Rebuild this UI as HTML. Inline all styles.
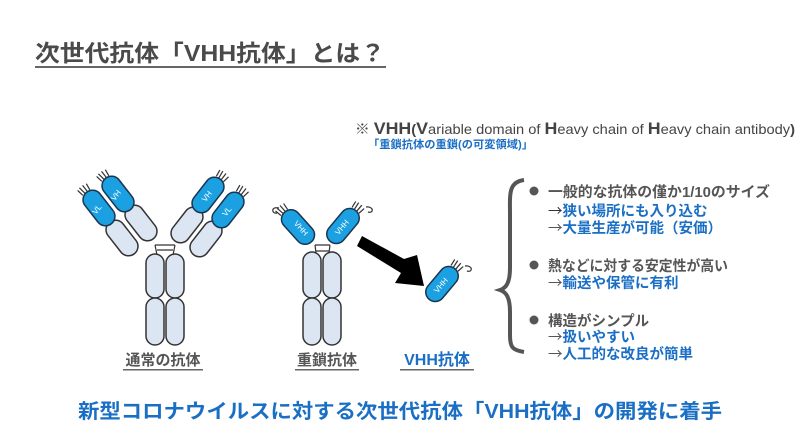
<!DOCTYPE html>
<html><head><meta charset="utf-8"><style>
html,body{margin:0;padding:0;background:#fff;}
svg{display:block;font-family:"Liberation Sans","Noto Sans CJK JP",sans-serif;}
.cjk{font-family:"Noto Sans CJK JP",sans-serif;}
</style></head><body>
<svg width="800" height="436" viewBox="0 0 800 436" xmlns="http://www.w3.org/2000/svg">
<defs>
<g id="pale"><rect x="-9.5" y="-20" width="19" height="40" rx="9.5" fill="#dce6f2" stroke="#333" stroke-width="1.5"/></g>
<g id="blue"><rect x="-9.5" y="-20" width="19" height="40" rx="9.5" fill="#1ba1e2" stroke="#1a3550" stroke-width="1.5"/>
<path d="M-5,-20 l-1,-7 M-2,-20 l-1,-8 M1,-20 l0,-8 M4,-20 l1,-7" stroke="#333" stroke-width="1.2" fill="none"/></g>
</defs>

<text x="35" y="61" font-size="23" font-weight="bold" fill="#4a4a4a" textLength="350" lengthAdjust="spacingAndGlyphs">次世代抗体「VHH抗体」とは？</text>
<rect x="35" y="66" width="351" height="2" fill="#666"/>

<text x="355" y="134" font-size="14" fill="#444" font-weight="bold" textLength="440" lengthAdjust="spacingAndGlyphs">※ <tspan font-size="17">V</tspan><tspan font-size="17">H</tspan><tspan font-size="17">H</tspan>(<tspan font-size="17">V</tspan><tspan font-weight="normal">ariable domain of </tspan><tspan font-size="17">H</tspan><tspan font-weight="normal">eavy chain of </tspan><tspan font-size="17">H</tspan><tspan font-weight="normal">eavy chain antibody</tspan>)</text>
<text x="368" y="148" font-size="11" font-weight="bold" fill="#1a6fc4" textLength="165" lengthAdjust="spacingAndGlyphs">「重鎖抗体の重鎖(の可変領域)」</text>

<rect x="146" y="254" width="18" height="44" rx="9" fill="#dce6f2" stroke="#333" stroke-width="1.5"/>
<rect x="166" y="254" width="18" height="44" rx="9" fill="#dce6f2" stroke="#333" stroke-width="1.5"/>
<rect x="146" y="298" width="18" height="47" rx="9" fill="#dce6f2" stroke="#333" stroke-width="1.5"/>
<rect x="166" y="298" width="18" height="47" rx="9" fill="#dce6f2" stroke="#333" stroke-width="1.5"/>
<path d="M155,245 h20 M157,250 h16 M155,245 l2,10 M175,245 l-2,10" stroke="#333" stroke-width="1.2" fill="none"/>
<use href="#pale" transform="translate(122,238) rotate(-38)"/>
<use href="#pale" transform="translate(141,223) rotate(-38)"/>
<use href="#blue" transform="translate(99,208) rotate(-38)"/>
<use href="#blue" transform="translate(118,194) rotate(-38)"/>
<use href="#pale" transform="translate(187,225) rotate(38)"/>
<use href="#pale" transform="translate(206,239) rotate(38)"/>
<use href="#blue" transform="translate(208,195) rotate(38)"/>
<use href="#blue" transform="translate(228,210) rotate(38)"/>
<g font-size="8" fill="#fff">
<text transform="translate(99,211) rotate(-52)" text-anchor="middle">VL</text>
<text transform="translate(118,197) rotate(-52)" text-anchor="middle">VH</text>
<text transform="translate(209,198) rotate(-52)" text-anchor="middle">VH</text>
<text transform="translate(229,213) rotate(-52)" text-anchor="middle">VL</text>
</g>

<rect x="303" y="252" width="18" height="46" rx="9" fill="#dce6f2" stroke="#333" stroke-width="1.5"/>
<rect x="323" y="252" width="18" height="46" rx="9" fill="#dce6f2" stroke="#333" stroke-width="1.5"/>
<rect x="303" y="298" width="18" height="47" rx="9" fill="#dce6f2" stroke="#333" stroke-width="1.5"/>
<rect x="323" y="298" width="18" height="47" rx="9" fill="#dce6f2" stroke="#333" stroke-width="1.5"/>
<path d="M315,245 h15 M316,251 h13 M315,245 l1,8 M330,245 l-1,8" stroke="#333" stroke-width="1.2" fill="none"/>
<use href="#blue" transform="translate(298,227) rotate(-42)"/>
<use href="#blue" transform="translate(343,226) rotate(40)"/>
<use href="#blue" transform="translate(442,284) rotate(40)"/>
<path d="M279,208 c-8,-2 -8,6 -2,5 M366,207 c8,-1 8,7 2,5 M465,266 c8,-1 8,7 2,5" stroke="#333" stroke-width="1.2" fill="none"/>
<g font-size="8" fill="#fff">
<text transform="translate(299,230) rotate(48)" text-anchor="middle">VHH</text>
<text transform="translate(344,229) rotate(-50)" text-anchor="middle">VHH</text>
<text transform="translate(443,287) rotate(-50)" text-anchor="middle">VHH</text>
</g>
<polygon points="362,236 404,259 417,255 424,286 395,283 401,273 357,246" fill="#000"/>

<g font-size="15" font-weight="bold">
<text x="163" y="365" text-anchor="middle" fill="#555">通常の抗体</text>
<rect x="123" y="369" width="80" height="1.5" fill="#666"/>
<text x="327" y="365" text-anchor="middle" fill="#555">重鎖抗体</text>
<rect x="295" y="369" width="64" height="1.5" fill="#666"/>
<text x="437" y="365" text-anchor="middle" fill="#1a6fc4" font-size="16">VHH抗体</text>
<rect x="400" y="369" width="74" height="1.5" fill="#666"/>
</g>

<path d="M524,180 C508,182 510,195 510,215 L510,268 C510,283 506,288 500,290 C506,292 510,297 510,312 L510,335 C510,347 512,350 524,352" stroke="#555" stroke-width="4" fill="none"/>

<g font-size="14.5" font-weight="bold" fill="#555">
<circle cx="534" cy="191" r="4.5" fill="#555"/>
<text x="548" y="197" textLength="222" lengthAdjust="spacingAndGlyphs">一般的な抗体の僅か1/10のサイズ</text>
<text x="548" y="216" font-weight="normal"><tspan class="cjk" fill="#333">→</tspan><tspan font-weight="bold" fill="#1a6fc4">狭い場所にも入り込む</tspan></text>
<text x="548" y="233" font-weight="normal"><tspan class="cjk">→</tspan><tspan font-weight="bold" fill="#1a6fc4">大量生産が可能（安価）</tspan></text>
<circle cx="534" cy="265" r="4.5" fill="#555"/>
<text x="548" y="271" textLength="180" lengthAdjust="spacingAndGlyphs">熱などに対する安定性が高い</text>
<text x="548" y="288" font-weight="normal"><tspan class="cjk">→</tspan><tspan font-weight="bold" fill="#1a6fc4">輸送や保管に有利</tspan></text>
<circle cx="534" cy="320" r="4.5" fill="#555"/>
<text x="548" y="326">構造がシンプル</text>
<text x="548" y="342" font-weight="normal"><tspan class="cjk">→</tspan><tspan font-weight="bold" fill="#1a6fc4">扱いやすい</tspan></text>
<text x="548" y="359" font-weight="normal"><tspan class="cjk">→</tspan><tspan font-weight="bold" fill="#1a6fc4">人工的な改良が簡単</tspan></text>
</g>

<text x="78" y="418" font-size="20" font-weight="bold" fill="#1a6fc4" textLength="644" lengthAdjust="spacingAndGlyphs">新型コロナウイルスに対する次世代抗体「VHH抗体」の開発に着手</text>
</svg>
</body></html>
